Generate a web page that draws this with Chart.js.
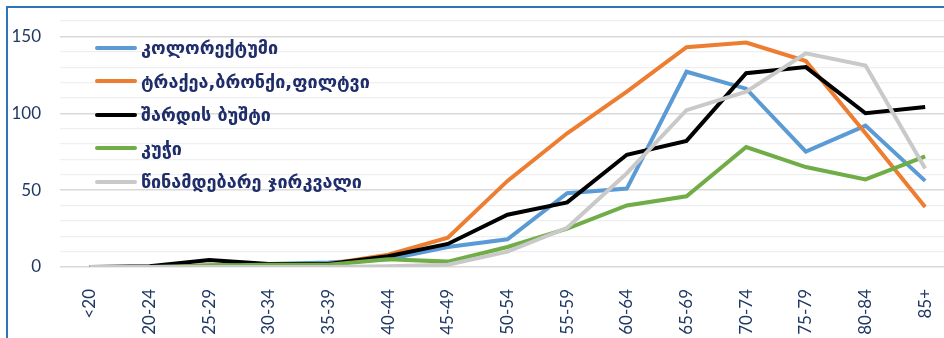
<!DOCTYPE html>
<html>
<head>
<meta charset="utf-8">
<script src="https://cdn.jsdelivr.net/npm/chart.js@4/dist/chart.umd.min.js"></script>
<style>
    html, body { margin: 0; padding: 0; background: #fff; overflow: hidden; }
    .frame {
        position: absolute; left: 6px; top: 6px; width: 1000px; height: 400px;
        border-left: 2px solid #2e75b6; border-top: 2px solid #2e75b6;
    }
    .wrap { position: absolute; left: 0; top: 0; width: 960px; height: 338px; }
    .legend { position: absolute; left: 95px; top: 31px; margin: 0; padding: 0; list-style: none; }
    .legend li {
        height: 33.5px; display: flex; align-items: center;
        font-family: "DejaVu Sans", sans-serif; font-weight: bold; font-size: 18px; color: #1f2d6b;
    }
    .legend .swatch { display: inline-block; width: 42px; height: 4px; border-radius: 2px; margin-right: 4px; }
</style>
</head>
<body>
<div class="frame"></div>
<div class="wrap"><canvas id="myChart" width="960" height="338"></canvas></div>
<ul class="legend"></ul>
<script>
const ageGroups = ['<20', '20-24', '25-29', '30-34', '35-39', '40-44', '45-49', '50-54', '55-59', '60-64', '65-69', '70-74', '75-79', '80-84', '85+'];

const seriesNames = ['კოლორექტუმი', 'ტრაქეა,ბრონქი,ფილტვი', 'შარდის ბუშტი', 'კუჭი', 'წინამდებარე ჯირკვალი'];
const seriesColors = ['#5b9bd5', '#ed7d31', '#000000', '#70ad47', '#c9c9c9'];

const colorectum = [0, 0, 1, 2, 3, 5, 13, 18, 48, 51, 127, 116, 75, 92, 56];
const lung = [0, 0, 1, 1, 2, 8, 19, 56, 87, 114, 143, 146, 134, 87, 39];
const bladder = [0, 0.5, 4.5, 2, 2, 7, 15, 34, 42, 73, 82, 126, 130, 100, 104];
const stomach = [0, 0, 1, 1.5, 1.5, 5, 3.5, 13, 25, 40, 46, 78, 65, 57, 72];
const prostate = [0, 0, 0, 0, 0, 0.5, 1.5, 10, 25.5, 61, 102, 114, 139, 131, 64];

const seriesValues = [colorectum, lung, bladder, stomach, prostate];

const navy = '#1f3864';

new Chart("myChart", {
    type: "line",
    data: {
        labels: ageGroups,
        datasets: seriesValues.map((vals, i) => ({
            label: seriesNames[i],
            data: vals,
            borderColor: seriesColors[i],
            backgroundColor: seriesColors[i],
            borderWidth: 4,
            pointRadius: 0,
            tension: 0,
            order: seriesValues.length - i
        }))
    },
    options: {
        responsive: false,
        animation: false,
        layout: { padding: { top: 21, right: 5, left: 0, bottom: 0 } },
        plugins: {
            legend: { display: false },
            tooltip: { enabled: false }
        },
        scales: {
            x: {
                offset: true,
                grid: { display: false },
                border: { display: false },
                ticks: {
                    color: navy,
                    font: { family: 'Lato', size: 17 },
                    minRotation: 90,
                    maxRotation: 90,
                    padding: 14,
                    autoSkip: false
                },
                afterFit: (scale) => { scale.height = 71; }
            },
            y: {
                min: 0,
                max: 160,
                border: { display: false },
                grid: {
                    drawTicks: false,
                    color: (ctx) => ctx.tick.value % 50 === 0 ? '#d9d9d9' : '#efefef',
                    lineWidth: (ctx) => ctx.tick.value % 50 === 0 ? 1.5 : 1.2
                },
                ticks: {
                    stepSize: 10,
                    autoSkip: false,
                    padding: 19,
                    color: navy,
                    font: { family: 'Lato', size: 17 },
                    callback: (v) => v % 50 === 0 ? v : ''
                },
                afterFit: (scale) => {
                    scale.width = 60;
                    scale.paddingTop = 0;
                    scale.paddingBottom = 0;
                }
            }
        }
    }
});

const populateLegend = () => {
    const ul = document.querySelector(".legend");
    seriesNames.forEach((name, i) => {
        let li = document.createElement("li");
        li.innerHTML = `<span class="swatch" style="background:${seriesColors[i]}"></span>${name}`;
        ul.appendChild(li);
    });
}

populateLegend();
</script>
</body>
</html>
